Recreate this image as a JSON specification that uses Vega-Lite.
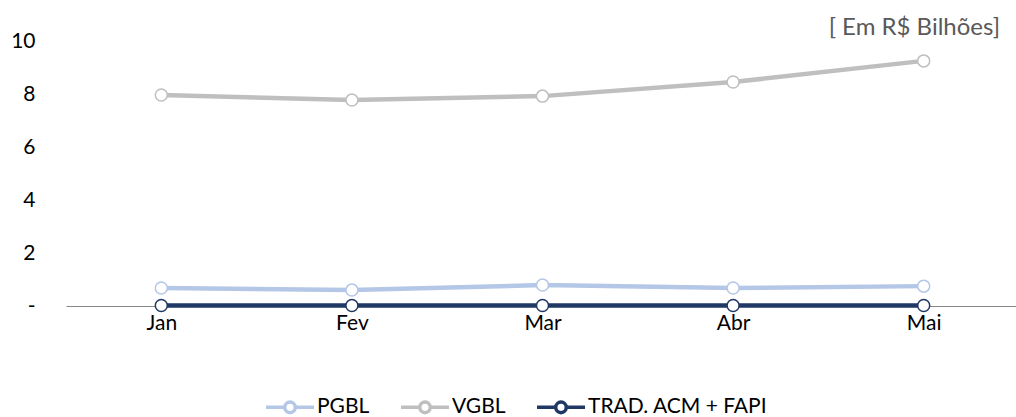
{
  "$schema": "https://vega.github.io/schema/vega-lite/v6.json",
  "width": 953,
  "height": 265,
  "autosize": {"type": "none"},
  "padding": {"left": 66, "top": 41, "right": 0, "bottom": 111},
  "background": "white",
  "config": {
    "view": {"stroke": null},
    "font": "Lato",
    "axis": {"labelFont": "Lato", "labelFontSize": 21, "labelColor": "#000000", "grid": false, "ticks": false}
  },
  "title": {
    "text": "[ Em R$ Bilhões]",
    "anchor": "end",
    "dx": -19,
    "dy": 14,
    "offset": 4,
    "fontSize": 24,
    "fontWeight": "normal",
    "color": "#595959",
    "font": "Lato"
  },
  "data": {
    "values": [
      {"mes": "Jan", "serie": "PGBL", "valor": 0.68},
      {"mes": "Fev", "serie": "PGBL", "valor": 0.6},
      {"mes": "Mar", "serie": "PGBL", "valor": 0.79},
      {"mes": "Abr", "serie": "PGBL", "valor": 0.68},
      {"mes": "Mai", "serie": "PGBL", "valor": 0.75},
      {"mes": "Jan", "serie": "VGBL", "valor": 7.96},
      {"mes": "Fev", "serie": "VGBL", "valor": 7.77},
      {"mes": "Mar", "serie": "VGBL", "valor": 7.92},
      {"mes": "Abr", "serie": "VGBL", "valor": 8.45},
      {"mes": "Mai", "serie": "VGBL", "valor": 9.25},
      {"mes": "Jan", "serie": "TRAD. ACM + FAPI", "valor": 0.02},
      {"mes": "Fev", "serie": "TRAD. ACM + FAPI", "valor": 0.02},
      {"mes": "Mar", "serie": "TRAD. ACM + FAPI", "valor": 0.02},
      {"mes": "Abr", "serie": "TRAD. ACM + FAPI", "valor": 0.02},
      {"mes": "Mai", "serie": "TRAD. ACM + FAPI", "valor": 0.02}
    ]
  },
  "encoding": {
    "x": {
      "field": "mes", "type": "nominal", "sort": ["Jan", "Fev", "Mar", "Abr", "Mai"],
      "scale": {"paddingInner": 0, "paddingOuter": 0},
      "axis": {"title": null, "labelAngle": 0, "domainColor": "#888888", "domainWidth": 1, "labelPadding": 6}
    },
    "y": {
      "field": "valor", "type": "quantitative",
      "scale": {"domain": [0, 10], "nice": false},
      "axis": {"title": null, "domain": false, "values": [0, 2, 4, 6, 8, 10], "labelPadding": 31,
        "labelExpr": "datum.value == 0 ? '-\u00a0\u00a0\u00a0' : datum.label"}
    },
    "color": {
      "field": "serie", "type": "nominal",
      "scale": {"domain": ["PGBL", "VGBL", "TRAD. ACM + FAPI"], "range": ["#B4C7E7", "#BFBFBF", "#203864"]},
      "legend": {
        "title": null,
        "orient": "none",
        "direction": "horizontal",
        "legendX": 198,
        "legendY": 340,
        "symbolType": "M-1,0H-0.22M0.22,0H1M0.22,0A0.22,0.22 0 1,1 -0.22,0A0.22,0.22 0 1,1 0.22,0Z",
        "symbolSize": 2304,
        "symbolStrokeWidth": 3.5,
        "labelFontSize": 21,
        "labelFont": "Lato",
        "labelColor": "#000000",
        "labelOffset": 1,
        "labelLimit": 400,
        "columnPadding": 24,
        "encode": {"symbols": {"update": {"fill": {"value": "white"}}}}
      }
    }
  },
  "layer": [
    {"mark": {"type": "line", "strokeWidth": 4.5}},
    {"mark": {"type": "point", "filled": false, "fill": "white", "strokeWidth": 1.5, "size": 144, "opacity": 1}}
  ]
}
